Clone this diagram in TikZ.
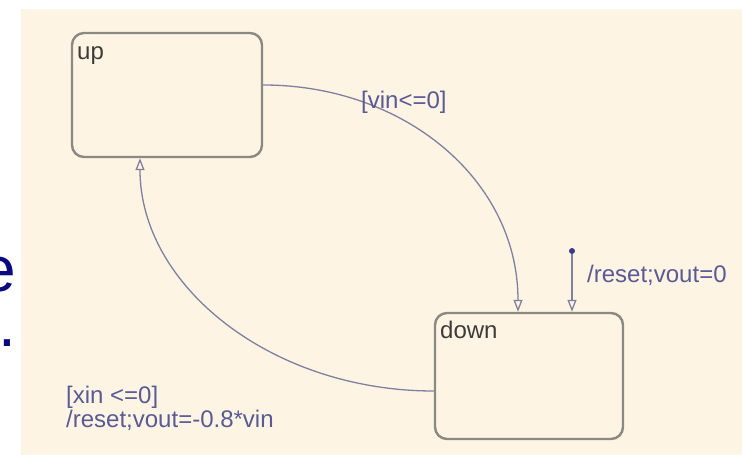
\documentclass[tikz,border=0pt]{standalone}
\usepackage{fontspec}
\setmainfont{Liberation Sans}
\usetikzlibrary{arrows.meta}

\begin{document}
\begin{tikzpicture}[x=1bp, y=-1bp,
  chartfont/.style={font=\fontsize{24bp}{24bp}\selectfont},
  state/.style={draw=cFrame, line width=2.4bp, rounded corners=12bp,
    fill=cChart, inner sep=0pt},
  statename/.style={chartfont, text=cName, anchor=base west, inner sep=0pt},
  trans/.style={draw=cTrans, line width=1.3bp,
    -{Triangle[open, length=12bp, width=9bp]}},
  translabel/.style={chartfont, text=cLabel, anchor=base west,
    inner sep=0pt, align=left},
  slidetext/.style={font=\fontsize{64bp}{64bp}\selectfont, text=cSlide,
    anchor=base west, inner sep=0pt},
]

\definecolor{cChart}{HTML}{FDF4E3}
\definecolor{cFrame}{HTML}{8C8882}
\definecolor{cName}{HTML}{3C3C3C}
\definecolor{cTrans}{HTML}{8080A0}
\definecolor{cLabel}{HTML}{5A5A96}
\definecolor{cDot}{HTML}{3A3A86}
\definecolor{cSlide}{HTML}{0A0A80}

\useasboundingbox (0,0) rectangle (742,459);

%% ---------- chart canvas ----------
\fill[cChart] (21,9) rectangle (742,455);

%% ---------- slide text running off the left edge ----------
\node[slidetext] (slide-e) at (-20,292) {e};
\node[slidetext] (slide-dot) at (-2,347) {.};

%% ---------- states ----------
\node[state, minimum width=190bp, minimum height=124bp] (up) at (167,95) {};
\node[statename] (up-name) at (77,60) {up};

\node[state, minimum width=188bp, minimum height=126bp] (down) at (529,376) {};
\node[statename] (down-name) at (440,339) {down};

%% ---------- default transition ----------
\node[circle, fill=cDot, inner sep=0pt, minimum size=6bp] (init) at (572,251) {};
\draw[trans] (init) -- (init |- down.north);
\node[translabel] (init-lbl) at (587,283) {/reset;vout=0};

%% ---------- up -> down ----------
\draw[trans] ([yshift=10bp]up.east)
  .. controls +(141,0) and +(0,-132) .. ([xshift=-11bp]down.north);
\node[translabel] (fall-lbl) at (361,109) {[vin<=0]};

%% ---------- down -> up ----------
\draw[trans] ([yshift=-15bp]down.west)
  .. controls +(-162,0) and +(0,128) .. ([xshift=-27bp]up.south);
% base sits on the last line here
\node[translabel] (rise-lbl) at (66,427) {[xin <=0]\\/reset;vout=-0.8*vin};

\end{tikzpicture}
\end{document}
